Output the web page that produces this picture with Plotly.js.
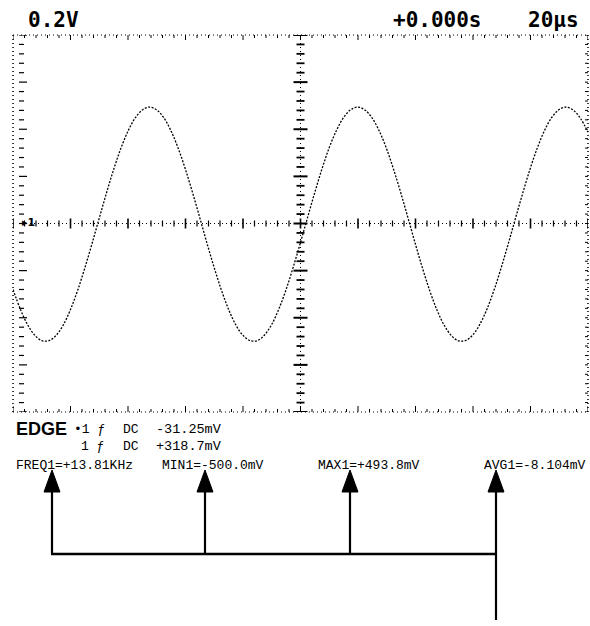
<!DOCTYPE html>
<html>
<head>
<meta charset="utf-8">
<script src="https://cdn.plot.ly/plotly-3.0.1.min.js"></script>
<style>html,body{margin:0;padding:0;background:#fff;}#chart{width:590px;height:626px;}</style>
</head>
<body>
<div id="chart"></div>
<script>
// ---- data ----
const timeUs = [-100,-97.5,-95,-92.5,-90,-87.5,-85,-82.5,-80,-77.5,-75,-72.5,-70,-67.5,-65,-62.5,-60,-57.5,-55,-52.5,
  -50,-47.5,-45,-42.5,-40,-37.5,-35,-32.5,-30,-27.5,-25,-22.5,-20,-17.5,-15,-12.5,-10,-7.5,-5,-2.5,
  0,2.5,5,7.5,10,12.5,15,17.5,20,22.5,25,27.5,30,32.5,35,37.5,40,42.5,45,47.5,
  50,52.5,55,57.5,60,62.5,65,67.5,70,72.5,75,77.5,80,82.5,85,87.5,90,92.5,95,97.5,100];
const voltsV = [-0.280,-0.362,-0.428,-0.473,-0.497,-0.497,-0.475,-0.430,-0.365,-0.283,-0.188,-0.085,0.023,0.129,0.229,0.318,0.392,0.448,0.482,0.494,
  0.482,0.448,0.392,0.318,0.229,0.129,0.023,-0.085,-0.188,-0.283,-0.365,-0.430,-0.475,-0.497,-0.497,-0.473,-0.428,-0.362,-0.280,-0.184,
  -0.080,0.027,0.133,0.233,0.322,0.395,0.450,0.483,0.494,0.481,0.446,0.390,0.315,0.225,0.125,0.019,-0.089,-0.192,-0.287,-0.368,
  -0.432,-0.476,-0.498,-0.496,-0.472,-0.425,-0.359,-0.276,-0.180,-0.076,0.032,0.137,0.237,0.325,0.398,0.452,0.484,0.494,0.480,0.444,0.387];
const headerLabels = ["0.2V", "+0.000s", "20\u00b5s"];
const trigRow1 = ["\u20221 \u0192", "DC", "-31.25mV"];
const trigRow2 = ["1 \u0192", "DC", "+318.7mV"];
const measLabels = ["FREQ1=+13.81KHz", "MIN1=-500.0mV", "MAX1=+493.8mV", "AVG1=-8.104mV"];

// ---- geometry helpers (pixel -> paper) ----
const L = 13, R = 588, T = 35, B = 412;
const px = x => (x - L) / (R - L);
const py = y => (B - y) / (B - T);

const shapes = [];
const blk = '#000';
function seg(x0, y0, x1, y1, w, dash) {
  shapes.push({type:'line', xref:'paper', yref:'paper', x0:px(x0), y0:py(y0), x1:px(x1), y1:py(y1),
    line:{color:blk, width:w, dash:dash||'solid'}, layer:'above'});
}
// border (dotted)
seg(L, T, R, T, 1, '1px,3px');
seg(L, B, R, B, 1, '1px,3px');
seg(L, T, L, B, 1.5, '1px,3px');
seg(R, T, R, B, 1.5, '1px,3px');
// centre cross (dotted)
seg(L + 9, (T + B) / 2, R, (T + B) / 2, 1, '1px,3px');
seg((L + R) / 2, T, (L + R) / 2, B, 1, '1px,3px');

// ticks along horizontal graticule lines (every 0.2 div = 4 us)
for (let k = -25; k <= 25; k++) {
  const t = k * 4; // us
  const major = (k % 5 === 0);
  shapes.push({type:'line', xref:'x', yref:'y', ysizemode:'pixel', yanchor:0,
    x0:t, x1:t, y0:major ? -5 : -3, y1:major ? 5 : 3, line:{color:blk, width:major ? 1.6 : 1.2}});
  shapes.push({type:'line', xref:'x', yref:'y', ysizemode:'pixel', yanchor:0.8,
    x0:t, x1:t, y0:major ? -5 : -3, y1:0, line:{color:blk, width:1}});
  shapes.push({type:'line', xref:'x', yref:'y', ysizemode:'pixel', yanchor:-0.8,
    x0:t, x1:t, y0:0, y1:major ? 6 : 3, line:{color:blk, width:1}});
}
// ticks along vertical centre line and left tick column (every 0.2 div = 0.04 V)
for (let k = -20; k <= 20; k++) {
  const v = k * 0.04;
  const major = (k % 5 === 0);
  shapes.push({type:'line', xref:'x', yref:'y', xsizemode:'pixel', xanchor:0,
    y0:v, y1:v, x0:major ? -7 : -4, x1:major ? 7 : 4, line:{color:blk, width:major ? 2 : 1.8}});
  shapes.push({type:'line', xref:'paper', yref:'y', y0:v, y1:v, x0:px(19), x1:px(major ? 27 : 24),
    line:{color:blk, width:1.2}});
  shapes.push({type:'line', xref:'paper', yref:'y', y0:v, y1:v, x0:px(R - 3), x1:px(R),
    line:{color:blk, width:1}});
}

// measurement pointer arrows
const arrowX = [52, 205, 350, 496];
const arrowTip = 470, arrowBase = 492, barY = 554;
arrowX.forEach(x => {
  seg(x, arrowBase, x, barY, 2.2);
  shapes.push({type:'path', xref:'paper', yref:'paper', fillcolor:blk, line:{color:blk, width:1},
    path:`M ${px(x - 8)} ${py(arrowBase)} L ${px(x + 8)} ${py(arrowBase)} L ${px(x)} ${py(arrowTip)} Z`});
});
seg(arrowX[0] - 1, barY, arrowX[3] + 1, barY, 2.5);
seg(arrowX[3], barY, arrowX[3], 620, 2.2);

// ---- text ----
const annotations = [];
function txt(s, x, y, size, fam, weight) {
  annotations.push({text:s, xref:'paper', yref:'paper', x:px(x), y:py(y), xanchor:'left', yanchor:'middle',
    showarrow:false, font:{family:fam, size:size, color:blk, weight:weight || 'normal'}});
}
const mono = 'DejaVu Sans Mono';
txt(headerLabels[0], 26, 20, 21, mono, 'bold');
txt(headerLabels[1], 391, 20, 21, mono, 'bold');
txt(headerLabels[2], 526, 20, 21, mono, 'bold');
txt('EDGE', 14, 429, 18, 'Liberation Sans', 'bold');
txt(trigRow1[0], 72, 429, 13, 'Liberation Mono');
txt(trigRow1[1], 121, 429, 13, 'Liberation Mono');
txt(trigRow1[2], 154, 429, 13.5, 'Liberation Mono');
txt(trigRow2[0], 79, 446, 13, 'Liberation Mono');
txt(trigRow2[1], 121, 446, 13, 'Liberation Mono');
txt(trigRow2[2], 154, 446, 13.5, 'Liberation Mono');
const measX = [14, 160, 316, 482];
measLabels.forEach((s, i) => txt(s, measX[i], 465, 13, 'Liberation Mono'));
// channel 1 ground marker
txt('\u25B81', 20, 222, 11, 'DejaVu Sans', 'bold');

const trace = {x:timeUs, y:voltsV, type:'scatter', mode:'lines',
  line:{color:blk, width:1.3, dash:'2px,1.5px', shape:'spline'}, hoverinfo:'skip'};

const layout = {
  width:590, height:626, paper_bgcolor:'#fff', plot_bgcolor:'#fff', showlegend:false,
  margin:{l:L, r:590 - R, t:T, b:626 - B, pad:0},
  xaxis:{range:[-100, 100], showgrid:false, zeroline:false, showticklabels:false, ticks:'', showline:false, fixedrange:true},
  yaxis:{range:[-0.8, 0.8], showgrid:false, zeroline:false, showticklabels:false, ticks:'', showline:false, fixedrange:true},
  shapes:shapes, annotations:annotations
};
Plotly.newPlot('chart', [trace], layout, {staticPlot:true, displayModeBar:false});
</script>
</body>
</html>
